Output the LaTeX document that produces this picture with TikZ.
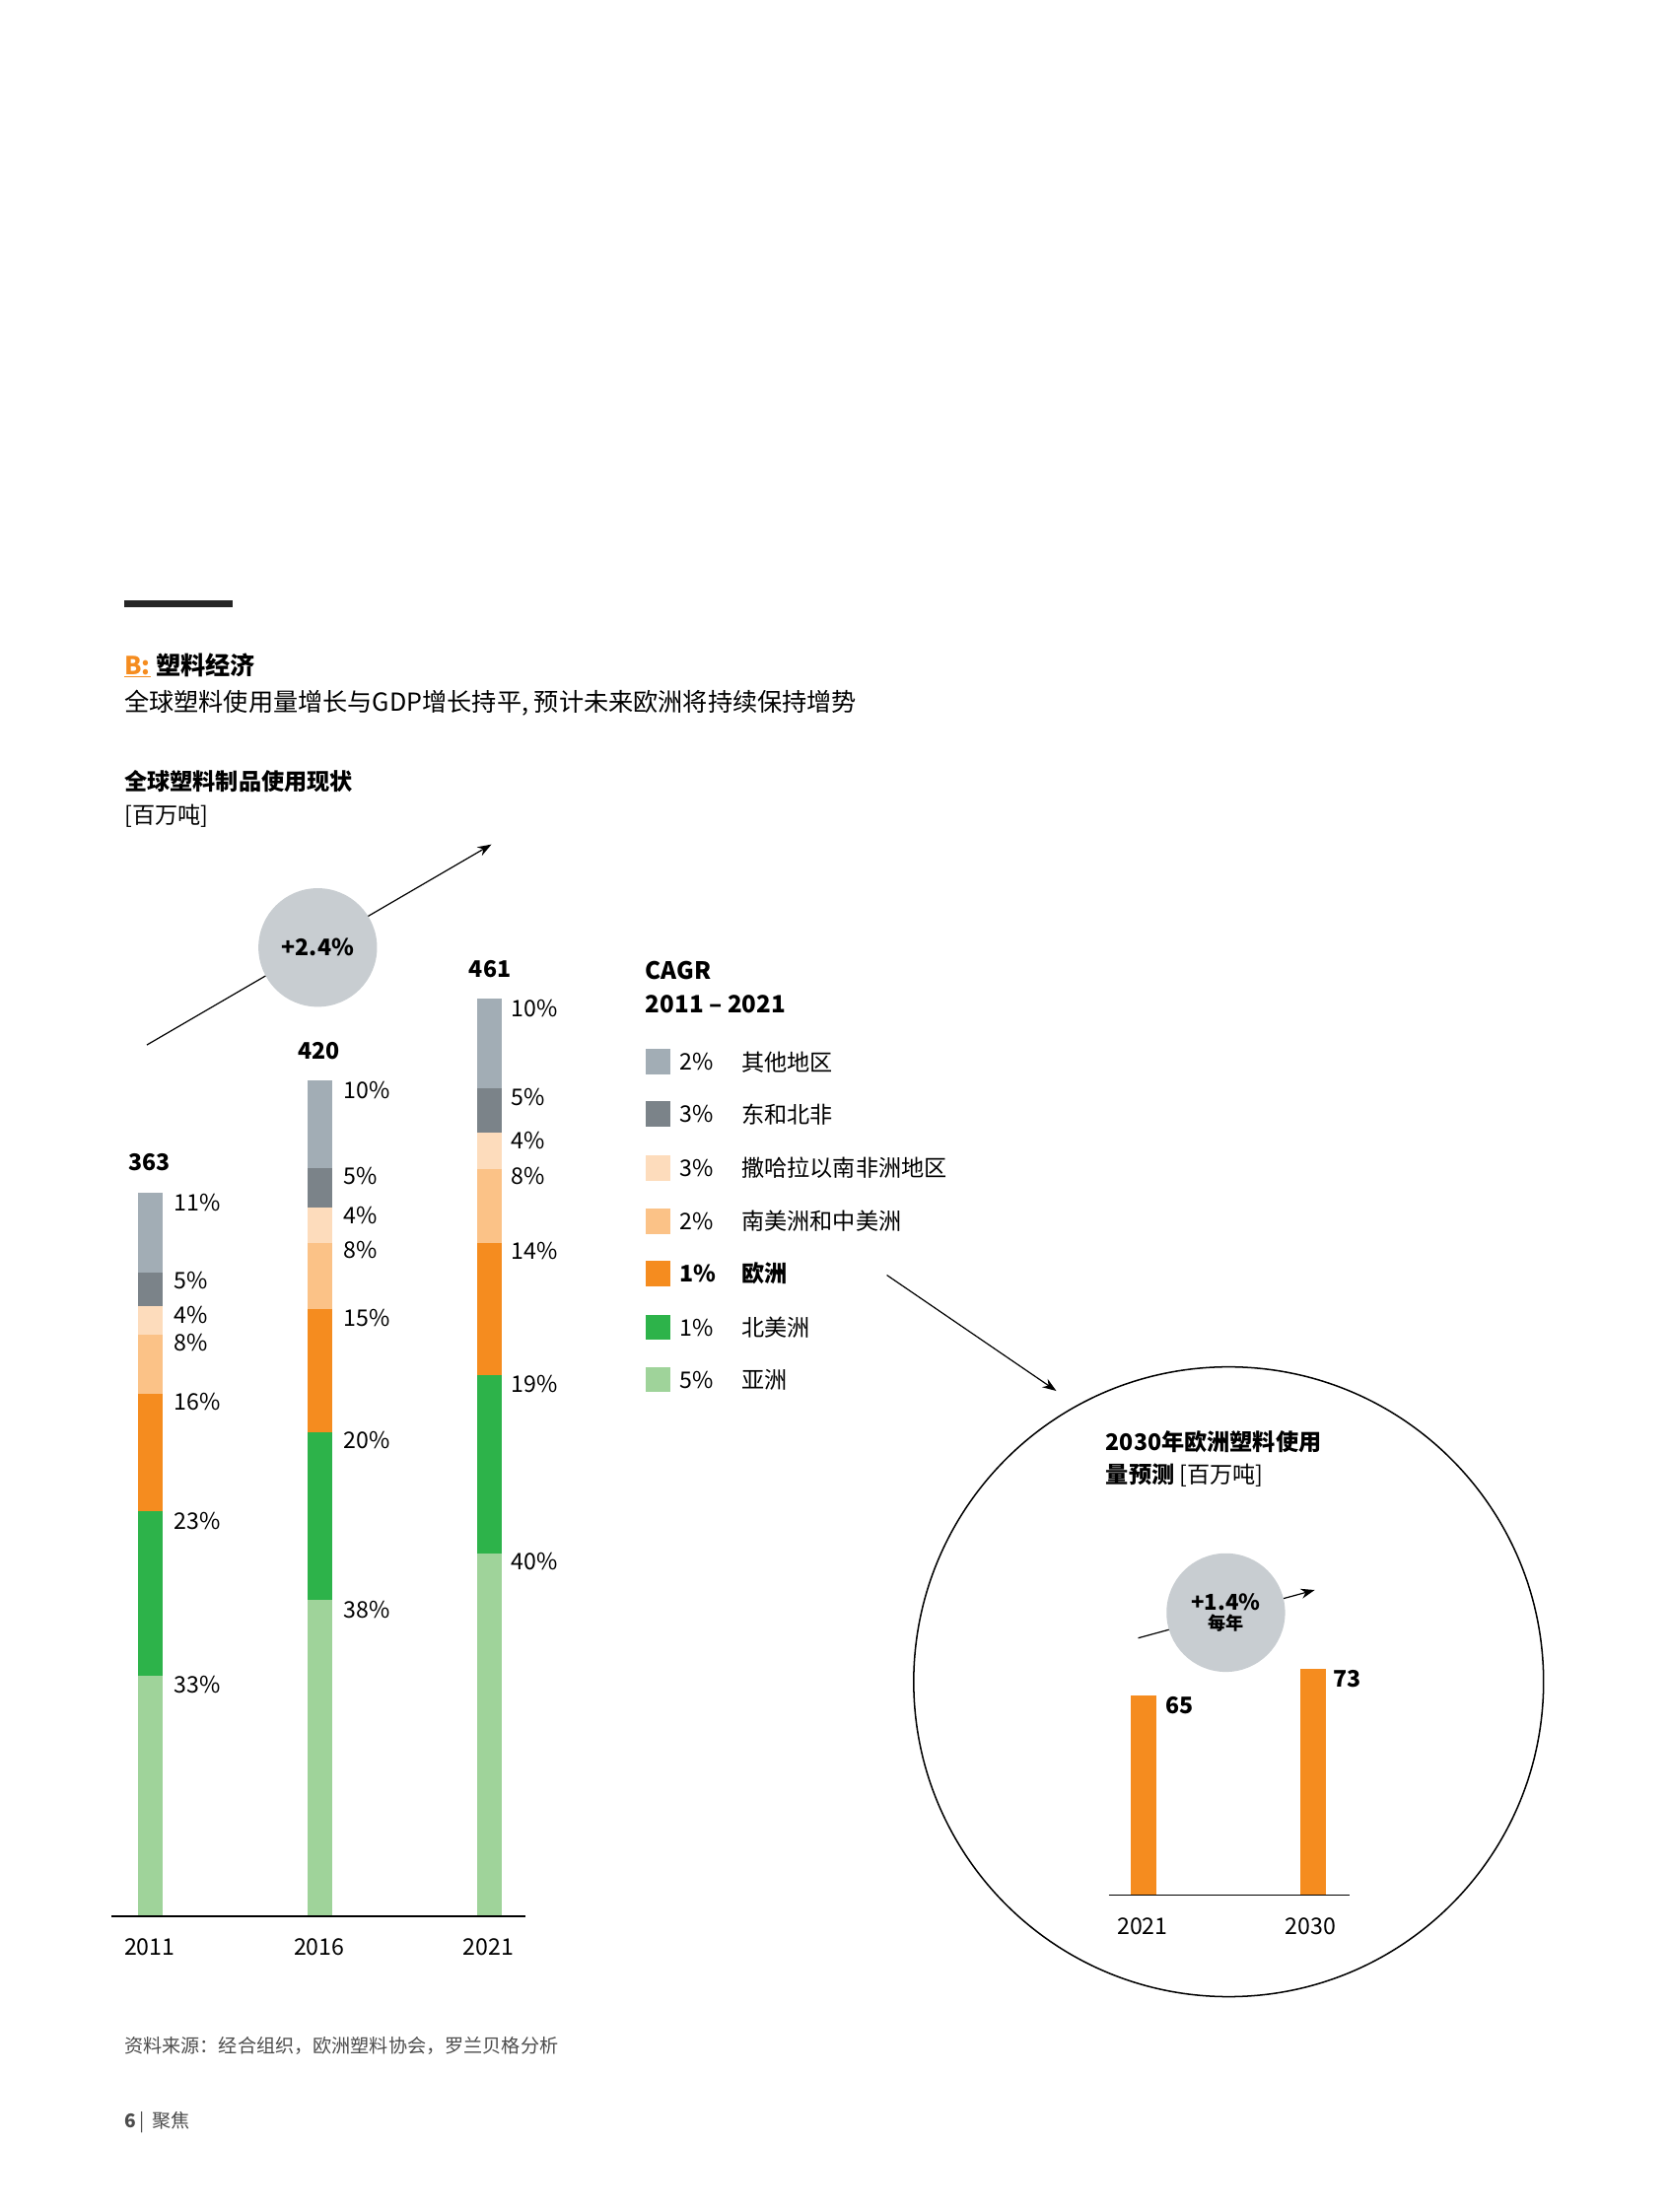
\documentclass[tikz,border=0pt]{standalone}
\usepackage{fontspec}
\setmainfont{Noto Sans CJK SC}
\usetikzlibrary{arrows.meta}
\definecolor{cgray}{HTML}{A2ADB5}
\definecolor{cdark}{HTML}{7B8389}
\definecolor{cpale}{HTML}{FDDCBC}
\definecolor{clor}{HTML}{FBC287}
\definecolor{cor}{HTML}{F58C1F}
\definecolor{cgr}{HTML}{2DB34A}
\definecolor{clgr}{HTML}{9FD39A}
\definecolor{ccirc}{HTML}{C8CDD1}
\tikzset{
 lbl/.style={anchor=west,inner sep=0pt,font=\fontsize{23}{26}\selectfont},
 blbl/.style={inner sep=0pt,font=\fontsize{23}{26}\selectfont\bfseries},
 ttl/.style={anchor=west,inner sep=0pt,font=\fontsize{25}{28}\selectfont},
 arr/.style={-{Stealth[length=14pt,width=10pt]},line width=1.2pt},
}
\begin{document}
\begin{tikzpicture}[x=0.05cm,y=-0.05cm]
\useasboundingbox (0,0) rectangle (1182,1566.5);
\fill[black!85] (88,425) rectangle (165,430);
\node[ttl,font=\fontsize{25}{28}\selectfont\bfseries] (b) at (88,471) {\textcolor{cor}{\underline{B:}}\ 塑料经济};
\node[ttl] (sub) at (88,498) {全球塑料使用量增长与GDP增长持平, 预计未来欧洲将持续保持增势};
\node[ttl,font=\fontsize{23}{26}\selectfont\bfseries] (ct) at (88,553) {全球塑料制品使用现状};
\node[ttl,font=\fontsize{23}{26}\selectfont] (cu) at (88,578) {[百万吨]};
\newcommand{\mybar}[8]{%
\fill[clgr] (#1,#2) rectangle (#1+17,1357);
\fill[cgr] (#1,#3) rectangle (#1+17,#2);
\fill[cor] (#1,#4) rectangle (#1+17,#3);
\fill[clor] (#1,#5) rectangle (#1+17,#4);
\fill[cpale] (#1,#6) rectangle (#1+17,#5);
\fill[cdark] (#1,#7) rectangle (#1+17,#6);
\fill[cgray] (#1,#8) rectangle (#1+17,#7);}
\mybar{98}{1187}{1070}{987}{945}{925}{901}{845}
\mybar{218}{1133}{1014}{927}{880}{855}{827}{765}
\mybar{338}{1100}{974}{880}{828}{802}{771}{707}
\foreach \y/\t in {1193/33\%,1077/23\%,993/16\%,951/8\%,931/4\%,907/5\%,852/11\%} \node[lbl] at (123,\y) {\t};
\foreach \y/\t in {1140/38\%,1020/20\%,933/15\%,885/8\%,861/4\%,833/5\%,772/10\%} \node[lbl] at (243,\y) {\t};
\foreach \y/\t in {1106/40\%,980/19\%,886/14\%,833/8\%,808/4\%,777/5\%,714/10\%} \node[lbl] at (362,\y) {\t};
\node[blbl] (t1) at (106,823) {363};
\node[blbl] (t2) at (226,744) {420};
\node[blbl] (t3) at (347,686) {461};
\draw[line width=1.2pt] (79,1357) -- (372,1357);
\node[blbl,font=\fontsize{23}{26}\selectfont] at (106,1379) {2011};
\node[blbl,font=\fontsize{23}{26}\selectfont] at (226,1379) {2016};
\node[blbl,font=\fontsize{23}{26}\selectfont] at (346,1379) {2021};
\coordinate (a1) at (104,740); \coordinate (a2) at (348,598);
\draw[arr] (a1) -- (a2);
\node[circle,fill=ccirc,minimum size=84*0.05cm,inner sep=0pt,font=\fontsize{23}{26}\selectfont\bfseries] (c1) at (225,671) {+2.4\%};
\node[ttl,font=\fontsize{24}{27}\selectfont\bfseries] at (457,687) {CAGR};
\node[ttl,font=\fontsize{24}{27}\selectfont\bfseries] at (457,711) {2011 – 2021};
\foreach \y/\c/\p/\t/\f in {752/cgray/2\%/其他地区/, 789/cdark/3\%/东和北非/, 827/cpale/3\%/撒哈拉以南非洲地区/, 865/clor/2\%/南美洲和中美洲/, 902/cor/1\%/欧洲/\bfseries, 940/cgr/1\%/北美洲/, 977/clgr/5\%/亚洲/}{
 \fill[\c] (457,\y-9) rectangle (475,\y+9);
 \node[lbl] at (481,\y) {\f\p};
 \node[lbl] at (525,\y) {\f\t};}
\coordinate (l1) at (628,903); \coordinate (l2) at (748,985);
\draw[arr] (l1) -- (l2);
\draw[line width=1.5pt] (870,1191) circle[radius=223];
\node[ttl,font=\fontsize{23}{26}\selectfont\bfseries] at (783,1021) {2030年欧洲塑料使用};
\node[ttl,font=\fontsize{23}{26}\selectfont] at (783,1045) {\textbf{量预测} [百万吨]};
\coordinate (s1) at (806,1160); \coordinate (s2) at (931,1126);
\draw[arr] (s1) -- (s2);
\node[circle,fill=ccirc,minimum size=84*0.05cm,inner sep=0pt,align=center,font=\fontsize{22}{22}\selectfont\bfseries] (c2) at (868,1142) {+1.4\%\\[-2pt]{\fontsize{18}{18}\selectfont 每年}};
\fill[cor] (801,1201) rectangle (819,1342);
\fill[cor] (921,1182) rectangle (939,1342);
\draw[line width=1pt] (785,1342) -- (956,1342);
\node[blbl] at (835,1208) {65};
\node[blbl] at (954,1189) {73};
\node[blbl,font=\fontsize{23}{26}\selectfont] at (809,1364) {2021};
\node[blbl,font=\fontsize{23}{26}\selectfont] at (928,1364) {2030};
\node[ttl,font=\fontsize{19}{22}\selectfont,text=black!70] at (88,1449) {资料来源：经合组织，欧洲塑料协会，罗兰贝格分析};
\node[ttl,font=\fontsize{19}{22}\selectfont,text=black!70] at (88,1503) {\textbf{6}\,|\ \ 聚焦};
\end{tikzpicture}
\end{document}
